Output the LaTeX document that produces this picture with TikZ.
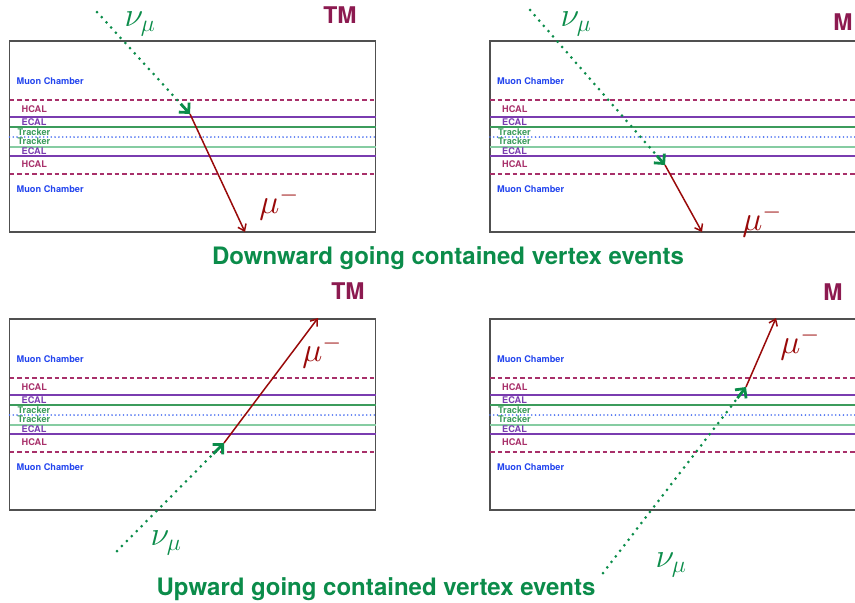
\RequirePackage{fix-cm}
\documentclass[tikz,border=0pt]{standalone}
\usepackage{fontspec}
\setsansfont{TeX Gyre Heros}
\usetikzlibrary{arrows.meta,calc}
\definecolor{ANu}{HTML}{0B8C4A}
\definecolor{AMu}{HTML}{990A0A}
\definecolor{ATag}{HTML}{8C1A50}
\definecolor{ABox}{HTML}{505050}
\definecolor{AHcal}{HTML}{A8306A}
\definecolor{AEcal}{HTML}{7A3CB0}
\definecolor{ATrk}{HTML}{3C9C5C}
\definecolor{ATrkL}{HTML}{86CCA2}
\definecolor{AMid}{HTML}{4A6FF0}
\definecolor{AChamber}{HTML}{2244EE}
\tikzset{
    box/.style = {draw=ABox, line width=1.2pt},
    hcalline/.style = {draw=AHcal, line width=1.5pt, dash pattern=on 4.5pt off 3pt},
    ecalline/.style = {draw=AEcal, line width=1.3pt},
    trkline/.style = {draw=ATrk, line width=1.3pt},
    midline/.style = {draw=AMid, line width=1.8pt, line cap=round, dash pattern=on 0pt off 3.8pt},
    layer/.style = {font=\sffamily\bfseries\fontsize{9.2}{9.2}\selectfont, anchor=west, inner sep=0pt},
    numu/.style = {draw=ANu, line width=3pt, line cap=round, dash pattern=on 0pt off 7pt},
    nutip/.style = {draw=ANu, line width=2.8pt, -{Straight Barb[length=7pt,width=14pt]}},
    muon/.style = {draw=AMu, line width=1.5pt, -{Straight Barb[length=6pt,width=9pt]}},
    particle/.style = {font=\fontsize{34}{34}\selectfont, inner sep=0pt},
    tag/.style = {font=\sffamily\bfseries\fontsize{23}{23}\selectfont, text=ATag, inner sep=0pt},
    caption/.style = {font=\sffamily\bfseries\fontsize{24}{24}\selectfont, text=ANu, inner sep=0pt}
}
% #1 prefix, #2 left, #3 right, #4 top
\newcommand{\detector}[4]{%
    \draw[box] (#2,#4) rectangle (#3,#4+191);
    \draw[hcalline] (#2,#4+59) -- (#3,#4+59);
    \draw[ecalline] (#2,#4+76) -- (#3,#4+76);
    \draw[trkline] (#2,#4+86) -- (#3,#4+86);
    \draw[midline] (#2,#4+96) -- (#3,#4+96);
    \draw[trkline,draw=ATrkL] (#2,#4+106) -- (#3,#4+106);
    \draw[ecalline] (#2,#4+115) -- (#3,#4+115);
    \draw[hcalline] (#2,#4+133) -- (#3,#4+133);
    \node[layer, text=AChamber] (#1mcup) at (#2+7,#4+40) {Muon Chamber};
    \node[layer, text=AHcal] (#1hcalup) at (#2+12,#4+68) {HCAL};
    \node[layer, text=AEcal] (#1ecalup) at (#2+12,#4+81) {ECAL};
    \node[layer, text=ATrk] (#1trkup) at (#2+8,#4+91) {Tracker};
    \node[layer, text=ATrk] (#1trkdn) at (#2+8,#4+100) {Tracker};
    \node[layer, text=AEcal] (#1ecaldn) at (#2+12,#4+110) {ECAL};
    \node[layer, text=AHcal] (#1hcaldn) at (#2+12,#4+123) {HCAL};
    \node[layer, text=AChamber] (#1mcdn) at (#2+7,#4+148) {Muon Chamber};
}

\begin{document}
\begin{tikzpicture}[x=1pt,y=-1pt]
    \useasboundingbox (0,0) rectangle (855,603);
    \clip (0,0) rectangle (855,603);
    \detector{tl}{9.5}{375.5}{41}
    \detector{tr}{490}{870}{41}
    \detector{bl}{9.5}{375.5}{319}
    \detector{br}{490}{870}{319}

    % downward, top left
    \coordinate (tlsrc) at (97,12);
    \coordinate (tlvtx) at (190,114);
    \coordinate (tlend) at (245,232);
    \draw[numu] (tlsrc) -- (tlvtx);
    \draw[nutip] ($(tlsrc)!0.9!(tlvtx)$) -- (tlvtx);
    \draw[muon] (tlvtx) -- (tlend);
    \node[particle, text=ANu] (tlnu) at (140,24) {$\nu_\mu$};
    \node[particle, text=AMu] (tlmu) at (279,204) {$\mu^-$};
    \node[tag] (tltag) at (340,15) {TM};

    % downward, top right
    \coordinate (trsrc) at (530,10);
    \coordinate (trvtx) at (665,165);
    \coordinate (trend) at (702,232);
    \draw[numu] (trsrc) -- (trvtx);
    \draw[nutip] ($(trsrc)!0.94!(trvtx)$) -- (trvtx);
    \draw[muon] (trvtx) -- (trend);
    \node[particle, text=ANu] (trnu) at (576,24) {$\nu_\mu$};
    \node[particle, text=AMu] (trmu) at (762,221) {$\mu^-$};
    \node[tag] (trtag) at (843,22) {M};

    \node[caption] (down) at (448,258) {Downward going contained vertex events};

    % upward, bottom left
    \coordinate (blsrc) at (117,551);
    \coordinate (blvtx) at (224,443);
    \coordinate (blend) at (318,318);
    \draw[numu] (blsrc) -- (blvtx);
    \draw[nutip] ($(blsrc)!0.9!(blvtx)$) -- (blvtx);
    \draw[muon] (blvtx) -- (blend);
    \node[particle, text=ANu] (blnu) at (166,543) {$\nu_\mu$};
    \node[particle, text=AMu] (blmu) at (322,352) {$\mu^-$};
    \node[tag] (bltag) at (348,291) {TM};

    % upward, bottom right
    \coordinate (brsrc) at (603,573);
    \coordinate (brvtx) at (746,387);
    \coordinate (brend) at (776,318);
    \draw[numu] (brsrc) -- (brvtx);
    \draw[nutip] ($(brsrc)!0.94!(brvtx)$) -- (brvtx);
    \draw[muon] (brvtx) -- (brend);
    \node[particle, text=ANu] (brnu) at (671,565) {$\nu_\mu$};
    \node[particle, text=AMu] (brmu) at (800,344) {$\mu^-$};
    \node[tag] (brtag) at (833,292) {M};

    \node[caption] (up) at (376,589) {Upward going contained vertex events};
\end{tikzpicture}
\end{document}
